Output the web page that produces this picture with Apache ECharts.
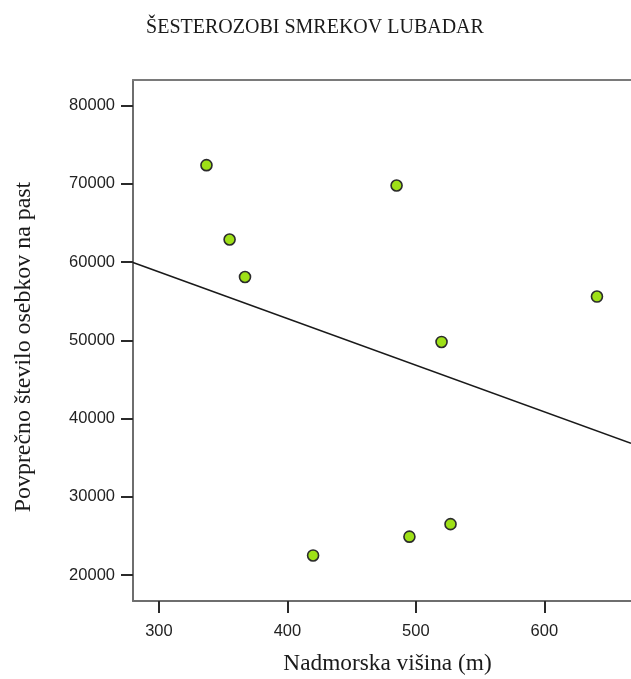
<!DOCTYPE html>
<html>
<head>
<meta charset="utf-8">
<title>Šesterozobi smrekov lubadar</title>
<script src="https://cdn.jsdelivr.net/npm/echarts@6/dist/echarts.min.js"></script>
<style>
  html, body { margin: 0; padding: 0; background: #ffffff; }
  #chart { width: 631px; height: 679px; }
</style>
</head>
<body>
<div id="chart"></div>
<script>
// Altitude of each trap site (m) and mean number of beetles per trap
const altitude = [337, 355, 367, 420, 485, 495, 520, 527, 641];
const beetlesPerTrap = [72400, 62900, 58100, 22500, 69800, 24900, 49800, 26500, 55600];

// Axis ranges and tick labels
const xRange = [279.8, 667.5];
const yRange = [16675, 83290];
const xTicks = [300, 400, 500, 600];
const yTicks = [20000, 30000, 40000, 50000, 60000, 70000, 80000];

const titleText = 'ŠESTEROZOBI SMREKOV LUBADAR';
const xName = 'Nadmorska višina (m)';
const yName = 'Povprečno število osebkov na past';

// Least-squares fit line through the points
function linearFit(xs, ys) {
  const n = xs.length;
  const mx = xs.reduce((a, b) => a + b, 0) / n;
  const my = ys.reduce((a, b) => a + b, 0) / n;
  let sxy = 0, sxx = 0;
  for (let i = 0; i < n; i++) {
    sxy += (xs[i] - mx) * (ys[i] - my);
    sxx += (xs[i] - mx) * (xs[i] - mx);
  }
  const slope = sxy / sxx;
  return x => my + slope * (x - mx);
}
const fit = linearFit(altitude, beetlesPerTrap);
const fitLine = xRange.map(x => [x, fit(x)]);
const points = altitude.map((x, i) => [x, beetlesPerTrap[i]]);

const serif = '"Liberation Serif", "DejaVu Serif", serif';
const sans = '"Liberation Sans", Arial, sans-serif';
const plain = v => String(Math.round(v));

const chart = echarts.init(document.getElementById('chart'), null, { renderer: 'canvas' });
chart.setOption({
  backgroundColor: '#ffffff',
  animation: false,
  grid: { left: 133, right: 0, top: 80, bottom: 78, containLabel: false, outerBoundsMode: 'none' },
  xAxis: [{
    type: 'value',
    min: xRange[0],
    max: xRange[1],
    axisLine: { show: true, onZero: false, lineStyle: { color: '#6e6e6e', width: 2 } },
    axisTick: { show: true, length: 12, customValues: xTicks, lineStyle: { color: '#2a2a2a', width: 2 } },
    axisLabel: { customValues: xTicks, formatter: plain, margin: 22, color: '#222', fontFamily: sans, fontSize: 16.5 },
    splitLine: { show: false }
  }, {
    type: 'value',
    position: 'top',
    min: xRange[0],
    max: xRange[1],
    axisLine: { show: true, onZero: false, lineStyle: { color: '#7a7a7a', width: 2 } },
    axisTick: { show: false },
    axisLabel: { show: false },
    splitLine: { show: false }
  }],
  yAxis: {
    type: 'value',
    min: yRange[0],
    max: yRange[1],
    axisLine: { show: true, onZero: false, lineStyle: { color: '#6e6e6e', width: 2 } },
    axisTick: { show: true, length: 12, customValues: yTicks, lineStyle: { color: '#2a2a2a', width: 2 } },
    axisLabel: { customValues: yTicks, formatter: plain, margin: 18, color: '#222', fontFamily: sans, fontSize: 16.5 },
    splitLine: { show: false }
  },
  graphic: [{
    type: 'text', x: 315, y: 28,
    style: { text: titleText, font: '20px ' + serif, fill: '#1a1a1a', align: 'center', verticalAlign: 'middle' }
  }, {
    type: 'text', x: 387.5, y: 664,
    style: { text: xName, font: '23.3px ' + serif, fill: '#1a1a1a', align: 'center', verticalAlign: 'middle' }
  }, {
    type: 'text', x: 24, y: 347, rotation: Math.PI / 2,
    style: { text: yName, font: '23.9px ' + serif, fill: '#1a1a1a', align: 'center', verticalAlign: 'middle' }
  }],
  series: [{
    type: 'line',
    data: fitLine,
    showSymbol: false,
    symbol: 'none',
    lineStyle: { color: '#1a1a1a', width: 1.6 },
    z: 2,
    silent: true
  }, {
    type: 'scatter',
    data: points,
    symbol: 'circle',
    symbolSize: 11,
    itemStyle: { color: '#9ee017', borderColor: '#2b2b2b', borderWidth: 1.6, opacity: 1 },
    z: 3
  }]
});
</script>
</body>
</html>
